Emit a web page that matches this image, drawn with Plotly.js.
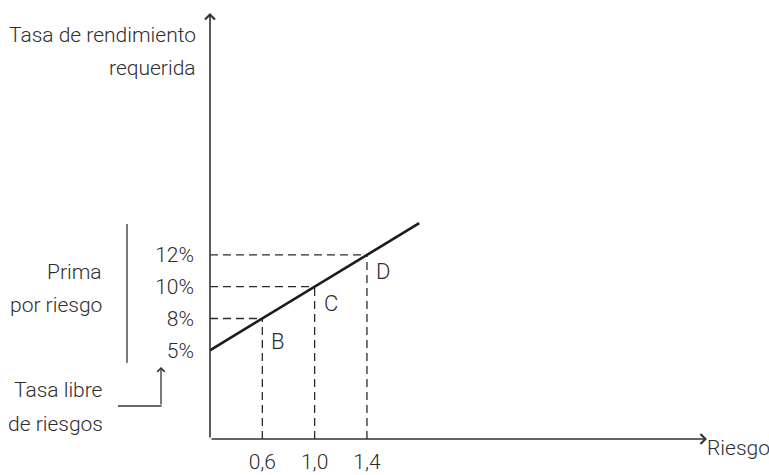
<!DOCTYPE html>
<html><head><meta charset="utf-8">
<script src="https://cdn.plot.ly/plotly-3.0.1.min.js"></script>
<style>html,body{margin:0;padding:0;background:#fff}#chart{width:769px;height:475px}</style>
</head><body><div id="chart"></div>
<script>
var riesgo = [0, 0.6, 1.0, 1.4, 1.8];
var tasa = [5, 8, 10, 12, 14];
var puntosNombre = ['B', 'C', 'D'];
var puntosRiesgo = [0.6, 1.0, 1.4];
var puntosTasa = [8, 10, 12];
var xTickText = ['0,6', '1,0', '1,4'];
var yTickVals = [5, 8, 10, 12];
var yTickText = ['5%', '8%', '10%', '12%'];

var cat = function (v) { return String(v); };
// serial number of a category on its axis (used by shapes/annotations)
var xi = function (v) { return riesgo.indexOf(v); };
var yi = function (v) { return tasa.indexOf(v); };

var FONT = 'Roboto, Liberation Sans, sans-serif';
var WEIGHT = 300;
var TXT = '#2e2e2e';
var xRange = [0, 9.5];
var yRange = [-2.79, 10.61];

// pixel -> paper helpers for the layout decorations
var L = 210, T = 13, W = 497, H = 426;
function px(x) { return (x - L) / W; }
function py(y) { return (T + H - y) / H; }

var trace = {
  x: riesgo.map(cat), y: tasa.map(cat),
  type: 'scatter', mode: 'lines',
  line: {color: '#1c1c1c', width: 2.6},
  hoverinfo: 'skip', showlegend: false
};

var DASH = {color: '#2a2a2a', width: 1.3, dash: '8px,5px'};
var shapes = [];
puntosRiesgo.forEach(function (r, i) {
  shapes.push({type: 'line', xref: 'x', yref: 'y', layer: 'below',
    x0: xi(riesgo[0]), x1: xi(r), y0: yi(puntosTasa[i]), y1: yi(puntosTasa[i]),
    line: DASH});
  shapes.push({type: 'line', xref: 'x', yref: 'y', layer: 'below',
    x0: xi(r), x1: xi(r), y0: yRange[0], y1: yi(puntosTasa[i]),
    line: DASH});
});
// bracket for "Prima por riesgo"
shapes.push({type: 'line', xref: 'paper', yref: 'paper',
  x0: px(127), x1: px(127), y0: py(224), y1: py(363),
  line: {color: '#333', width: 1.3}});
// elbow of the "Tasa libre de riesgos" arrow
shapes.push({type: 'line', xref: 'paper', yref: 'paper',
  x0: px(118), x1: px(161.6), y0: py(406), y1: py(406),
  line: {color: '#333', width: 1.3}});

function txt(text, x, y, xanchor, size) {
  return {text: text, xref: 'paper', yref: 'paper', x: x, y: y,
    xanchor: xanchor, yanchor: 'middle', showarrow: false, align: xanchor,
    font: {family: FONT, weight: WEIGHT, size: size || 21, color: TXT}};
}

var annotations = [
  // axes arrows
  {text: '', xref: 'paper', yref: 'paper', x: 0, y: 1, ax: 0, ay: H,
   axref: 'pixel', ayref: 'pixel', showarrow: true, arrowhead: 4,
   arrowsize: 1.2, arrowwidth: 1.6, arrowcolor: '#333'},
  {text: '', xref: 'paper', yref: 'paper', x: 1, y: 0, ax: -W, ay: 0,
   axref: 'pixel', ayref: 'pixel', showarrow: true, arrowhead: 4,
   arrowsize: 1.2, arrowwidth: 1.6, arrowcolor: '#333'},
  // risk-free arrow
  {text: '', xref: 'paper', yref: 'paper', x: px(161), y: py(367), ax: 0, ay: 39,
   showarrow: true, arrowhead: 4, arrowsize: 1.1, arrowwidth: 1.3, arrowcolor: '#333'},
  txt('Riesgo', px(705), py(448), 'left'),
  txt('Tasa de rendimiento', px(198), py(35), 'right'),
  txt('requerida', px(198), py(68), 'right'),
  txt('Prima', px(104), py(272), 'right'),
  txt('por riesgo', px(104), py(305), 'right'),
  txt('Tasa libre', px(105), py(390), 'right'),
  txt('de riesgos', px(105), py(424), 'right')
];
var yShifts = [-23, -17, -17];
puntosNombre.forEach(function (n, i) {
  annotations.push({text: n, xref: 'x', yref: 'y',
    x: xi(puntosRiesgo[i]), y: yi(puntosTasa[i]),
    xanchor: 'left', yanchor: 'middle', xshift: 7, yshift: yShifts[i],
    showarrow: false, font: {family: FONT, weight: WEIGHT, size: 22, color: TXT}});
});

var layout = {
  width: 769, height: 475,
  margin: {l: L, r: 769 - L - W, t: T, b: 475 - T - H, pad: 0},
  paper_bgcolor: '#ffffff', plot_bgcolor: '#ffffff',
  showlegend: false,
  xaxis: {type: 'category', categoryorder: 'array', categoryarray: riesgo.map(cat),
    range: xRange, showgrid: false, zeroline: false, showline: false,
    tickmode: 'array', tickvals: puntosRiesgo.map(cat), ticktext: xTickText,
    ticks: '', ticklabelstandoff: 8,
    tickfont: {family: FONT, weight: WEIGHT, size: 21, color: TXT}, fixedrange: true},
  yaxis: {type: 'category', categoryorder: 'array', categoryarray: tasa.map(cat),
    range: yRange, showgrid: false, zeroline: false, showline: false,
    tickmode: 'array', tickvals: yTickVals.map(cat), ticktext: yTickText,
    ticks: '', ticklabelstandoff: 15,
    tickfont: {family: FONT, weight: WEIGHT, size: 21, color: TXT}, fixedrange: true},
  shapes: shapes,
  annotations: annotations
};

Plotly.newPlot('chart', [trace], layout, {displayModeBar: false, staticPlot: true});
</script>
</body></html>
